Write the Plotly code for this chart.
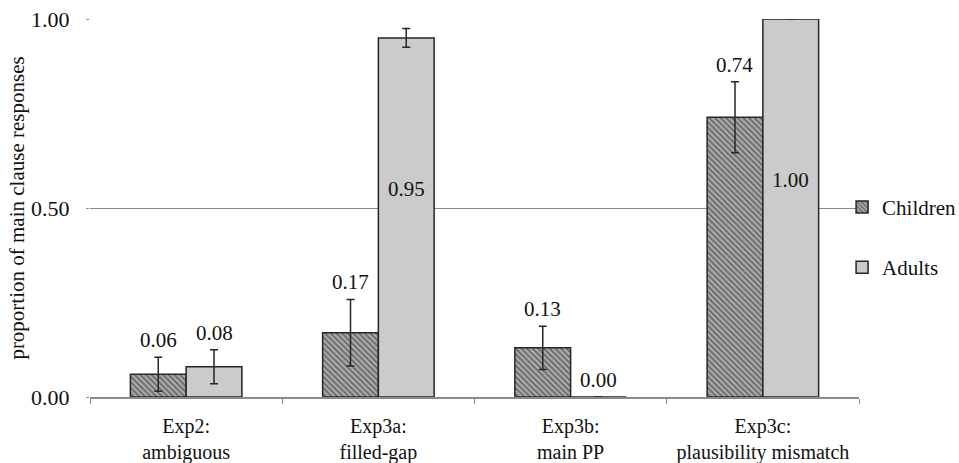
import plotly.graph_objects as go

categories = ["Exp2:<br>ambiguous", "Exp3a:<br>filled-gap", "Exp3b:<br>main PP", "Exp3c:<br>plausibility mismatch"]
children = [0.06, 0.17, 0.13, 0.74]
children_err = [0.045, 0.088, 0.057, 0.094]
adults = [0.08, 0.95, 0.00, 1.00]
adults_err = [0.045, 0.025, 0.0, 0.0]
yticks = [0.0, 0.5, 1.0]
ytick_text = ["0.00", "0.50", "1.00"]

FONT = "Liberation Serif"
DARK = "#262626"

fig = go.Figure()
fig.add_trace(go.Bar(
    x=categories, y=children, name="Children", legendgroup="c",
    marker=dict(color="#a8a8a8", line=dict(color=DARK, width=1.5),
                pattern=dict(shape="\\", fgcolor="#262626", bgcolor="#b0b0b0", size=4, solidity=0.5)),
    error_y=dict(type="data", array=children_err, visible=True, color=DARK, thickness=1.5, width=4),
))
fig.add_trace(go.Bar(
    x=categories, y=adults, name="Adults", legendgroup="a",
    marker=dict(color="#cbcbcb", line=dict(color=DARK, width=1.5)),
    error_y=dict(type="data", array=adults_err, visible=True, color=DARK, thickness=1.5, width=4),
))

annotations = []
for i, (v, e) in enumerate(zip(children, children_err)):
    annotations.append(dict(x=categories[i], y=v + e, xref="x", yref="y", text=f"{v:.2f}",
                            showarrow=False, yanchor="bottom", yshift=3, xshift=-28,
                            font=dict(family=FONT, size=21, color="#111")))
for i, (v, e) in enumerate(zip(adults, adults_err)):
    if v >= 0.5:
        annotations.append(dict(x=categories[i], y=v / 2, xref="x", yref="y", text=f"{v:.2f}",
                                showarrow=False, yanchor="middle", yshift=28, xshift=28,
                                font=dict(family=FONT, size=21, color="#111")))
    else:
        annotations.append(dict(x=categories[i], y=v + e, xref="x", yref="y", text=f"{v:.2f}",
                                showarrow=False, yanchor="bottom", yshift=3, xshift=28,
                                font=dict(family=FONT, size=21, color="#111")))

fig.update_layout(
    width=959, height=463,
    margin=dict(l=90, r=100, t=19, b=66, autoexpand=False),
    paper_bgcolor="white", plot_bgcolor="white",
    barmode="group", bargap=0.42, bargroupgap=0,
    font=dict(family=FONT, size=21, color="#111"),
    showlegend=True,
    legend=dict(x=0.978, xanchor="left", y=0.556, yanchor="top", tracegroupgap=30,
                font=dict(family=FONT, size=21, color="#111"), bgcolor="rgba(0,0,0,0)",
                itemwidth=30),
    annotations=annotations,
    xaxis=dict(showline=True, linecolor="#8a8a8a", linewidth=1.5, ticks="outside",
               tickson="boundaries", ticklen=5, tickcolor="#8a8a8a", showgrid=False,
               tickangle=0, automargin=False,
               tickfont=dict(family=FONT, size=20, color="#111"), ticklabelstandoff=10),
    yaxis=dict(range=[0, 1.0], tickvals=yticks, ticktext=ytick_text, showgrid=True,
               gridcolor="#8a8a8a", gridwidth=1.2, zeroline=False, showline=False,
               ticks="outside", ticklen=3, tickcolor="#8a8a8a", ticklabelstandoff=12,
               automargin=False,
               tickfont=dict(family=FONT, size=22, color="#111"),
               title=dict(text="proportion of main clause responses", standoff=0,
                          font=dict(family=FONT, size=21, color="#111"))),
)

fig.write_html("out.html", config={"displayModeBar": False},
               post_script="document.body.style.margin='0';")
